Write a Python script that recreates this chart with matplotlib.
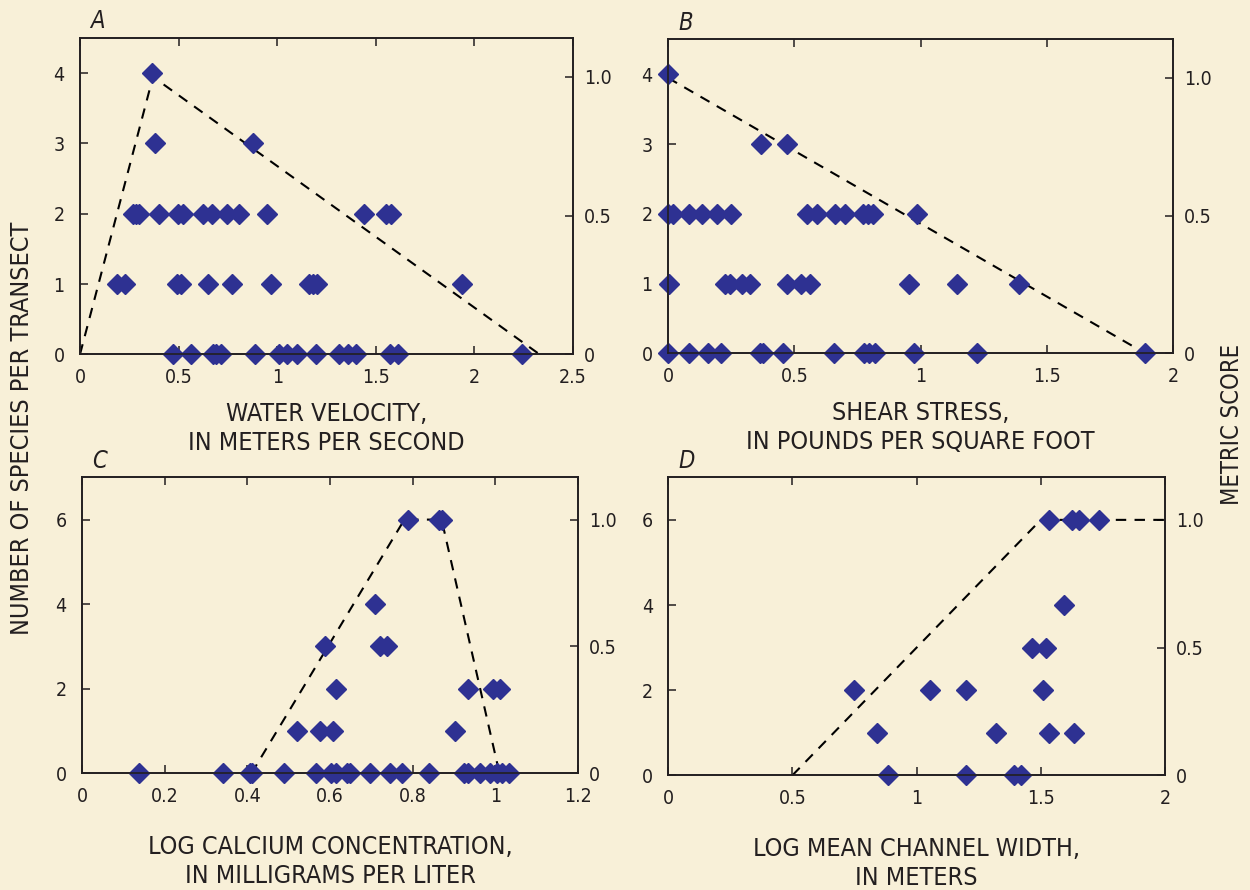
import matplotlib
matplotlib.use("Agg")
import matplotlib.pyplot as plt

plt.rcParams['font.family'] = ['DejaVu Sans']
plt.rcParams['font.stretch'] = 'condensed'

BG = '#F8F0D8'
INK = '#231F20'
BLUE = '#2E3192'

# A - water velocity
vel_x = [0.367,
         0.382, 0.878,
         0.267, 0.284, 0.300, 0.402, 0.495, 0.520, 0.622, 0.667, 0.743, 0.806, 0.949, 1.439, 1.554, 1.579,
         0.186, 0.228, 0.490, 0.512, 0.650, 0.772, 0.968, 1.162, 1.182, 1.203, 1.939,
         0.471, 0.561, 0.672, 0.692, 0.713, 0.887, 1.010, 1.052, 1.098, 1.199, 1.314, 1.360, 1.399, 1.571, 1.613, 2.243]
vel_y = [4] + [3] * 2 + [2] * 14 + [1] * 11 + [0] * 16
vel_score_x = [0, 0.37, 2.33]
vel_score_y = [0, 1, 0]

# B - shear stress
shear_x = [0.0,
           0.367, 0.472,
           0.0, 0.02, 0.083, 0.136, 0.195, 0.251, 0.55, 0.59, 0.66, 0.70, 0.772, 0.792, 0.811, 0.985,
           0.003, 0.224, 0.244, 0.293, 0.326, 0.472, 0.528, 0.563, 0.956, 1.145, 1.389,
           0.0, 0.083, 0.158, 0.208, 0.363, 0.376, 0.455, 0.657, 0.776, 0.796, 0.818, 0.974, 1.223, 1.89]
shear_y = [4] + [3] * 2 + [2] * 14 + [1] * 11 + [0] * 14
shear_score_x = [0, 1.89]
shear_score_y = [1, 0]

# C - log calcium
ca_x = [0.789, 0.863, 0.871,
        0.710,
        0.587, 0.720, 0.739,
        0.615, 0.934, 0.994, 1.012,
        0.519, 0.575, 0.607, 0.903,
        0.138, 0.341, 0.406, 0.411, 0.489, 0.565, 0.602, 0.615, 0.640, 0.648, 0.696,
        0.744, 0.773, 0.839, 0.924, 0.935, 0.962, 0.986, 1.005, 1.016, 1.033]
ca_y = [6] * 3 + [4] + [3] * 3 + [2] * 4 + [1] * 4 + [0] * 21
ca_score_x = [0.41, 0.78, 0.87, 1.01]
ca_score_y = [0, 1, 1, 0]

# D - log channel width
wid_x = [1.533, 1.624, 1.654, 1.736,
         1.593,
         1.463, 1.519,
         0.749, 1.055, 1.199, 1.510,
         0.839, 1.319, 1.533, 1.635,
         0.886, 1.199, 1.392, 1.419]
wid_y = [6] * 4 + [4] + [3] * 2 + [2] * 4 + [1] * 4 + [0] * 4
wid_score_x = [0.5, 1.5, 2.0]
wid_score_y = [0, 1, 1]

panels = [
    ('A', [0.064, 0.6019, 0.3944, 0.3554], vel_x, vel_y, vel_score_x, vel_score_y,
     [0, 0.5, 1, 1.5, 2, 2.5], ['0', '0.5', '1', '1.5', '2', '2.5'], 2.5,
     [0, 1, 2, 3, 4], 4.5, 1.14, 'WATER VELOCITY,\nIN METERS PER SECOND', 11),
    ('B', [0.5344, 0.6030, 0.4040, 0.3528], shear_x, shear_y, shear_score_x, shear_score_y,
     [0, 0.5, 1, 1.5, 2], ['0', '0.5', '1', '1.5', '2'], 2,
     [0, 1, 2, 3, 4], 4.5, 1.14, 'SHEAR STRESS,\nIN POUNDS PER SQUARE FOOT', 11),
    ('C', [0.0656, 0.1311, 0.3968, 0.3326], ca_x, ca_y, ca_score_x, ca_score_y,
     [0, 0.2, 0.4, 0.6, 0.8, 1, 1.2], ['0', '0.2', '0.4', '0.6', '0.8', '1', '1.2'], 1.2,
     [0, 2, 4, 6], 7, 7 / 6, 'LOG CALCIUM CONCENTRATION,\nIN MILLIGRAMS PER LITER', 21),
    ('D', [0.5346, 0.1289, 0.3974, 0.3348], wid_x, wid_y, wid_score_x, wid_score_y,
     [0, 0.5, 1, 1.5, 2], ['0', '0.5', '1', '1.5', '2'], 2,
     [0, 2, 4, 6], 7, 7 / 6, 'LOG MEAN CHANNEL WIDTH,\nIN METERS', 21),
]

fig = plt.figure(figsize=(12.5, 8.9), dpi=100, facecolor=BG)

for letter, rect, xs, ys, sx, sy, xt, xtl, xmax, yt, ymax, smax, xlabel, lpad in panels:
    ax = fig.add_axes(rect)
    ax2 = ax.twinx()
    ax2.set_facecolor(BG)
    ax.set_zorder(ax2.get_zorder() + 1)
    ax.patch.set_visible(False)

    ax2.plot(sx, sy, color='black', lw=1.5, dashes=(5, 4), clip_on=False)
    ax.plot(xs, ys, linestyle='none', marker='D', ms=10, color=BLUE, clip_on=False)

    ax.set_xlim(0, xmax)
    ax.set_ylim(0, ymax)
    ax2.set_ylim(0, smax)
    ax.set_xticks(xt)
    ax.set_xticklabels(xtl)
    ax.set_yticks(yt)
    ax2.set_yticks([0, 0.5, 1.0])
    ax2.set_yticklabels(['0', '0.5', '1.0'])

    ax.tick_params(axis='x', direction='in', top=True, length=6, width=1.1,
                   labelsize=14, pad=10, colors=INK)
    ax.tick_params(axis='y', direction='in', length=6, width=1.1,
                   labelsize=14, pad=11, colors=INK)
    ax2.tick_params(axis='y', direction='in', length=6, width=1.1,
                    labelsize=14, pad=8, colors=INK)
    for a in (ax, ax2):
        for sp in a.spines.values():
            sp.set_color(INK)
            sp.set_linewidth(1.2)

    ax.set_xlabel(xlabel, fontsize=18, color=INK, labelpad=lpad, linespacing=1.25)
    ax.text(0.02, 1.015, letter, transform=ax.transAxes, fontsize=17,
            style='italic', color=INK, va='bottom', ha='left')

fig.text(22 / 1250, 1 - 428 / 890, 'NUMBER OF SPECIES PER TRANSECT', rotation=90,
         fontsize=18, color=INK, ha='center', va='center')
fig.text(1232 / 1250, 1 - 424 / 890, 'METRIC SCORE', rotation=90,
         fontsize=17, color=INK, ha='center', va='center')

fig.savefig('out.png', dpi=100, facecolor=BG)
